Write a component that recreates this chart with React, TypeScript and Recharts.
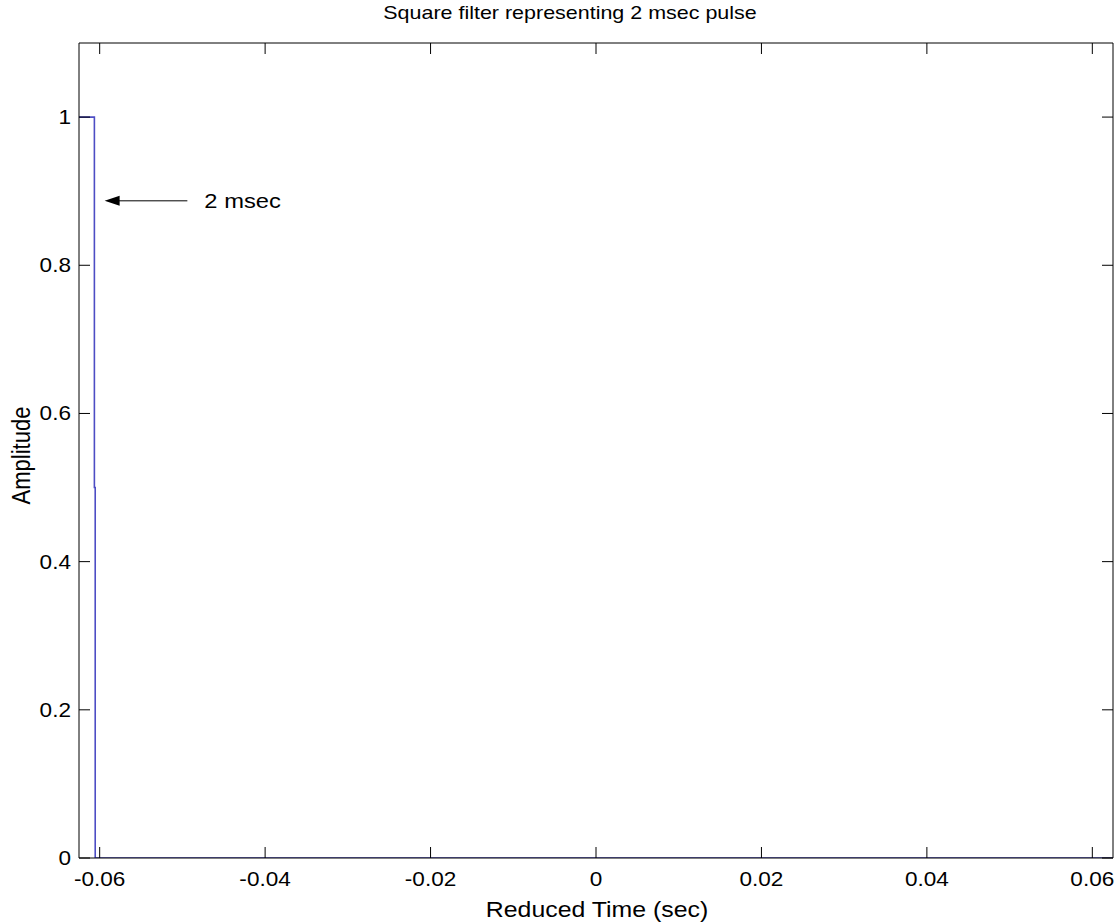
import { Line, LineChart, ReferenceLine, XAxis, YAxis } from 'recharts';

// square pulse, 2 msec wide, sampled as a step trace
const timeSec = [-0.0626, -0.06064, -0.06064, -0.06054, -0.06054, 0.0625];
const amplitude = [1, 1, 0.5, 0.5, 0, 0];

const xTicks = [-0.06, -0.04, -0.02, 0, 0.02, 0.04, 0.06];
const xTickLabels = ['-0.06', '-0.04', '-0.02', '0', '0.02', '0.04', '0.06'];
const yTicks = [0, 0.2, 0.4, 0.6, 0.8, 1];
const yTickLabels = ['0', '0.2', '0.4', '0.6', '0.8', '1'];

// annotation arrow pointing at the pulse edge
const arrowTail = -0.0494;
const arrowTip = -0.0594;
const arrowLevel = 0.887;
const arrowText = '2 msec';

const title = 'Square filter representing 2 msec pulse';
const xLabel = 'Reduced Time (sec)';
const yLabel = 'Amplitude';

const data = timeSec.map((t, i) => ({ t, a: amplitude[i] }));

const FONT = "'Liberation Sans', Arial, sans-serif";
const SX = 1.13; // text is a bit wide in this figure
const TICK = 11;

function WideText({
  x,
  y,
  size,
  anchor = 'middle',
  rotate = 0,
  children,
}: {
  x: number;
  y: number;
  size: number;
  anchor?: 'start' | 'middle' | 'end';
  rotate?: number;
  children: string;
}) {
  return (
    <text
      transform={`translate(${x},${y}) scale(${SX},1) rotate(${rotate})`}
      x={0}
      y={0}
      textAnchor={anchor}
      fontSize={size}
      fontFamily={FONT}
      fill="#000"
      stroke="none"
    >
      {children}
    </text>
  );
}

const BottomTick = (p: any) => {
  const i = xTicks.indexOf(p.payload.value);
  return (
    <WideText x={p.x} y={p.y + 28} size={20}>
      {xTickLabels[i] ?? ''}
    </WideText>
  );
};

const LeftTick = (p: any) => {
  const i = yTicks.indexOf(p.payload.value);
  return (
    <WideText x={p.x - 8} y={p.y + 7} size={20} anchor="end">
      {yTickLabels[i] ?? ''}
    </WideText>
  );
};

const NoLabel = () => <g />;

const ArrowShape = (p: any) => {
  const { x1, y1, x2, y2 } = p;
  return (
    <g>
      <line x1={x1} y1={y1} x2={x2 + 14} y2={y2} stroke="#000" strokeWidth={1} />
      <polygon
        points={`${x2},${y2} ${x2 + 15},${y2 - 5} ${x2 + 15},${y2 + 5}`}
        fill="#000"
      />
      <WideText x={x1 + 17} y={y1 + 7} size={21} anchor="start">
        {arrowText}
      </WideText>
    </g>
  );
};

// ticks point inward: negative size, margin pulls the label back to the axis line
const inward = {
  tickSize: -TICK,
  tickMargin: TICK,
  tickLine: { stroke: '#000' },
  axisLine: { stroke: '#000' },
  interval: 0 as const,
  allowDataOverflow: true,
};

export default function App() {
  return (
    <div style={{ position: 'absolute', left: 0, top: 0, background: '#fff' }}>
      <LineChart
        width={1119}
        height={923}
        data={data}
        margin={{ top: 42, right: 5, bottom: 0, left: 0 }}
      >
        <XAxis
          dataKey="t"
          type="number"
          domain={[-0.0625, 0.0625]}
          ticks={xTicks}
          height={65}
          {...inward}
          tick={BottomTick}
          label={{
            content: (props: any) => {
              const vb = props.viewBox;
              return (
                <WideText x={vb.x + vb.width / 2 + 1} y={917} size={22}>
                  {xLabel}
                </WideText>
              );
            },
          }}
        />
        <XAxis
          xAxisId="top"
          dataKey="t"
          type="number"
          orientation="top"
          domain={[-0.0625, 0.0625]}
          ticks={xTicks}
          height={1}
          {...inward}
          tick={NoLabel}
          label={{
            content: () => (
              <WideText x={570} y={19} size={19}>
                {title}
              </WideText>
            ),
          }}
        />
        <YAxis
          type="number"
          domain={[0, 1.1]}
          ticks={yTicks}
          width={79}
          {...inward}
          tick={LeftTick}
          label={{
            content: (props: any) => {
              const vb = props.viewBox;
              return (
                <WideText x={30} y={vb.y + vb.height / 2 + 5} size={22} rotate={-90}>
                  {yLabel}
                </WideText>
              );
            },
          }}
        />
        <YAxis
          yAxisId="right"
          type="number"
          orientation="right"
          domain={[0, 1.1]}
          ticks={yTicks}
          width={1}
          {...inward}
          tick={NoLabel}
        />
        <Line
          type="linear"
          dataKey="a"
          stroke="#4d4dc4"
          strokeWidth={1.6}
          dot={false}
          activeDot={false}
          isAnimationActive={false}
        />
        <ReferenceLine
          segment={[
            { x: arrowTail, y: arrowLevel },
            { x: arrowTip, y: arrowLevel },
          ]}
          shape={ArrowShape}
        />
      </LineChart>
    </div>
  );
}
